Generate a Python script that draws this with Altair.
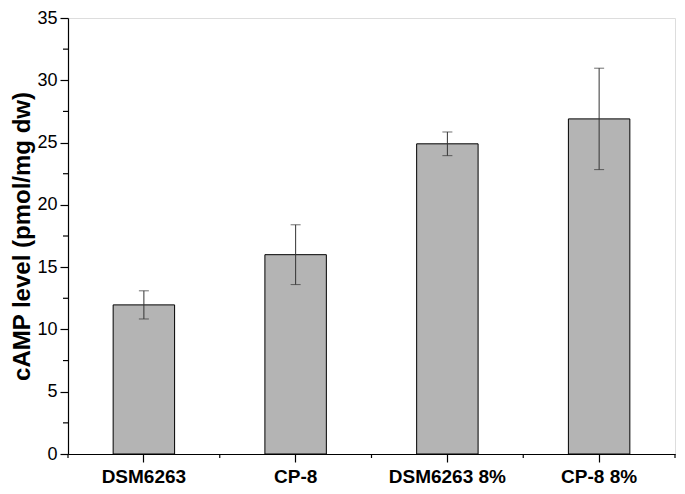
import altair as alt
import pandas as pd

categories = ["DSM6263", "CP-8", "DSM6263 8%", "CP-8 8%"]
means = [11.97, 16.0, 24.9, 26.9]
errors = [1.13, 2.4, 0.95, 4.07]
y_ticks = [0, 5, 10, 15, 20, 25, 30, 35]
y_minor = [2.5, 7.5, 12.5, 17.5, 22.5, 27.5, 32.5]

df = pd.DataFrame({"cat": categories, "mean": means, "err": errors})
df["lo"] = df["mean"] - df["err"]
df["hi"] = df["mean"] + df["err"]
minor_df = pd.DataFrame({"v": y_minor})
last_df = pd.DataFrame({"cat": [categories[-1]]})

FONT = "Liberation Sans"

xscale = alt.Scale(domain=categories, paddingInner=0, paddingOuter=0)
yscale = alt.Scale(domain=[0, 35], nice=False)


def X(**kw):
    return alt.X("cat:N", scale=xscale, sort=categories, **kw)


bars = alt.Chart(df).mark_bar(
    width=alt.RelativeBandSize(0.405), color="#b4b4b4", stroke="#000000", strokeWidth=1
).encode(
    x=X(
        title=None,
        axis=alt.Axis(
            labelAngle=0,
            labelFont=FONT,
            labelFontSize=19,
            labelFontWeight="bold",
            labelColor="#000000",
            labelPadding=5,
            tickSize=8,
            tickColor="#000000",
            domainColor="#000000",
            domainWidth=1.2,
            tickWidth=1.2,
            grid=False,
        ),
    ),
    y=alt.Y(
        "mean:Q",
        scale=yscale,
        title="cAMP level (pmol/mg dw)",
        axis=alt.Axis(
            values=y_ticks,
            labelFont=FONT,
            labelFontSize=18,
            labelColor="#000000",
            labelPadding=3,
            tickSize=8,
            tickColor="#000000",
            tickWidth=1.2,
            domainColor="#000000",
            domainWidth=1.2,
            grid=False,
            titleFont=FONT,
            titleFontSize=24,
            titleFontWeight="bold",
            titleColor="#000000",
            titlePadding=2,
        ),
    ),
)

err_rule = alt.Chart(df).mark_rule(color="#333333", strokeWidth=1).encode(
    x=X(), y=alt.Y("lo:Q", scale=yscale), y2="hi:Q"
)
cap_hi = alt.Chart(df).mark_tick(
    color="#333333", orient="horizontal", size=10, thickness=1
).encode(x=X(), y=alt.Y("hi:Q", scale=yscale))
cap_lo = alt.Chart(df).mark_tick(
    color="#333333", orient="horizontal", size=10, thickness=1
).encode(x=X(), y=alt.Y("lo:Q", scale=yscale))

minor_y = alt.Chart(minor_df).mark_rule(color="#000000", strokeWidth=1.2).encode(
    y=alt.Y("v:Q", scale=yscale), x=alt.value(0), x2=alt.value(-5)
)

bound_ticks = alt.Chart(df).mark_rule(
    color="#000000", strokeWidth=1.2, y2Offset=4
).encode(x=X(bandPosition=0), y=alt.datum(0), y2=alt.datum(0))
bound_last = alt.Chart(last_df).mark_rule(
    color="#000000", strokeWidth=1.2, y2Offset=4
).encode(x=X(bandPosition=1), y=alt.datum(0), y2=alt.datum(0))

chart = (
    alt.layer(bars, err_rule, cap_hi, cap_lo, minor_y, bound_ticks, bound_last)
    .properties(
        width=607,
        height=436,
        padding={"left": 2, "top": 1, "right": 0, "bottom": 0},
    )
    .configure_view(stroke=None)
    .configure(background="white")
)

chart.save("out.html", embed_options={"renderer": "svg", "actions": False})
